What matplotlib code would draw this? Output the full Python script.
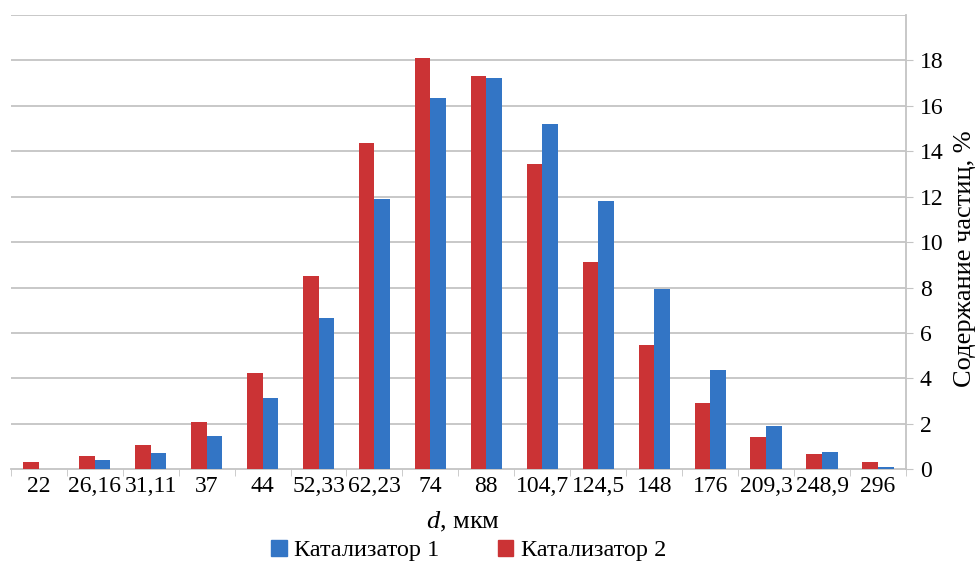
import numpy as np
import matplotlib.pyplot as plt
from matplotlib.patches import Patch

plt.rcParams['font.family'] = ['Liberation Serif', 'DejaVu Serif']
plt.rcParams['mathtext.fontset'] = 'custom'
plt.rcParams['mathtext.it'] = 'Liberation Serif:italic'
plt.rcParams['mathtext.rm'] = 'Liberation Serif'

# Particle size classes and content of each fraction, %
sizes = ["22", "26,16", "31,11", "37", "44", "52,33", "62,23", "74", "88",
         "104,7", "124,5", "148", "176", "209,3", "248,9", "296"]
cat1 = [0.0, 0.40, 0.70, 1.47, 3.16, 6.66, 11.90, 16.33, 17.24,
        15.22, 11.80, 7.94, 4.38, 1.92, 0.75, 0.09]
cat2 = [0.31, 0.59, 1.07, 2.09, 4.26, 8.52, 14.36, 18.10, 17.31,
        13.46, 9.11, 5.48, 2.91, 1.42, 0.67, 0.31]

red = '#CB3335'
blue = '#3375C5'
grid_col = '#C4C4C4'

fig = plt.figure(figsize=(9.8, 5.67), dpi=100)
ax = fig.add_axes([0.011, 0.1723, 0.9135, 0.8012])

x = np.arange(len(sizes))
w = 0.28
ax.bar(x - w / 2, cat2, width=w, color=red, zorder=3)
ax.bar(x + w / 2, cat1, width=w, color=blue, zorder=3)

ax.set_xlim(-0.5, len(sizes) - 0.5)
ax.set_ylim(0, 20)

# horizontal grid (incl. 20 without label)
for v in range(2, 21, 2):
    ax.axhline(v, color=grid_col, lw=1.3, zorder=1)

ax.yaxis.tick_right()
ax.set_yticks(range(0, 19, 2))
ax.tick_params(axis='y', length=5, color=grid_col, labelsize=17, pad=5)

ax.set_xticks(x)
ax.set_xticklabels(sizes)
ax.set_xticks(np.arange(-0.5, len(sizes)), minor=True)
ax.tick_params(axis='x', which='major', length=0, labelsize=17, pad=5)
ax.tick_params(axis='x', which='minor', length=5, color=grid_col)

for s in ['top', 'left']:
    ax.spines[s].set_visible(False)
for s in ['bottom', 'right']:
    ax.spines[s].set_color(grid_col)
    ax.spines[s].set_linewidth(1.3)

fig.text(0.4725, 0.079, r"$d$, мкм", fontsize=19, ha='center', va='center')
fig.text(0.985, 0.543, "Содержание частиц, %", rotation=90, fontsize=19,
         ha='center', va='center')

handles = [Patch(color=blue, label="Катализатор 1"),
           Patch(color=red, label="Катализатор 2")]
fig.legend(handles=handles, loc='center', bbox_to_anchor=(0.478, 0.029),
           ncol=2, frameon=False,
           prop={'family': 'Liberation Serif', 'size': 17.5},
           handlelength=0.65, handleheight=0.65, handletextpad=0.3,
           columnspacing=2.4)

fig.savefig("out.png", dpi=100)
